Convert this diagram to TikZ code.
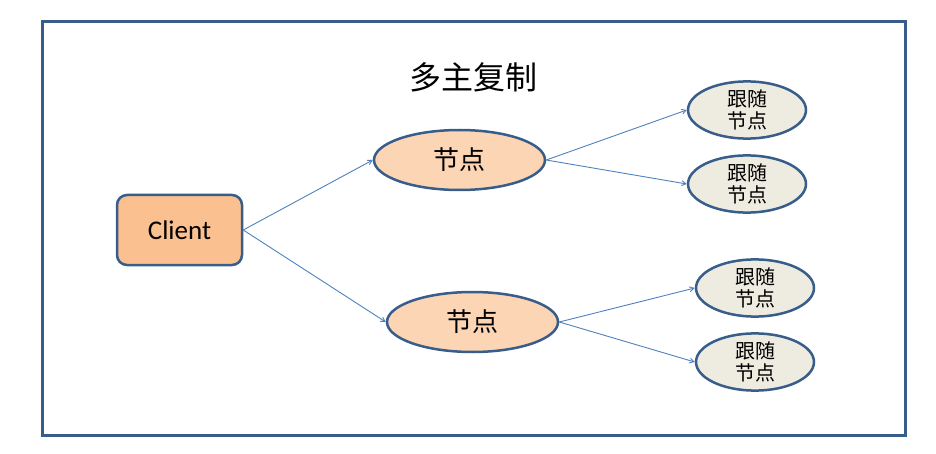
\documentclass[tikz,border=0pt]{standalone}
\usepackage{fontspec}
\setsansfont{Carlito}
\newfontfamily\cjk{Noto Sans CJK SC}
\usetikzlibrary{arrows,shapes.geometric}
\definecolor{F}{RGB}{56, 93, 138}
\definecolor{L}{RGB}{79, 129, 189}
\definecolor{O}{RGB}{250, 192, 143}
\definecolor{P}{RGB}{252, 213, 181}
\definecolor{Y}{RGB}{238, 236, 225}
\tikzset{
  leader/.style={ellipse, draw=F, line width=2.5pt, fill=P, minimum width=171pt, minimum height=60pt, inner sep=0pt, font=\cjk\fontsize{26}{30}\selectfont},
  follower/.style={ellipse, draw=F, line width=2.5pt, fill=Y, minimum width=118pt, minimum height=50pt, inner sep=0pt, align=center, font=\cjk\fontsize{20}{22}\selectfont},
  link/.style={->, >=angle 60, draw=L, line width=0.9pt}
}
\begin{document}
\begin{tikzpicture}[x=1pt, y=-1pt]
  \useasboundingbox (0,0) rectangle (936,454);
  \draw[F, line width=3pt] (42,22) rectangle (905,435);
  \node[font=\cjk\fontsize{32}{36}\selectfont] (title) at (473,77) {多主复制};
  \node[draw=F, line width=2.5pt, fill=O, rounded corners=10pt, minimum width=125pt, minimum height=70pt, font=\sffamily\fontsize{27}{30}\selectfont] (client) at (179.5,230) {Client};
  \node[leader] (n1) at (459.5,160) {节点};
  \node[leader] (n2) at (472.5,322) {节点};
  \node[follower] (f1) at (747,110) {跟随\\节点};
  \node[follower] (f2) at (747,184) {跟随\\节点};
  \node[follower] (f3) at (755,288) {跟随\\节点};
  \node[follower] (f4) at (755,362) {跟随\\节点};
  \draw[link] (client.east) -- (n1.west);
  \draw[link] (client.east) -- (n2.west);
  \draw[link] (n1.east) -- (f1.west);
  \draw[link] (n1.east) -- (f2.west);
  \draw[link] (n2.east) -- (f3.west);
  \draw[link] (n2.east) -- (f4.west);
\end{tikzpicture}
\end{document}
